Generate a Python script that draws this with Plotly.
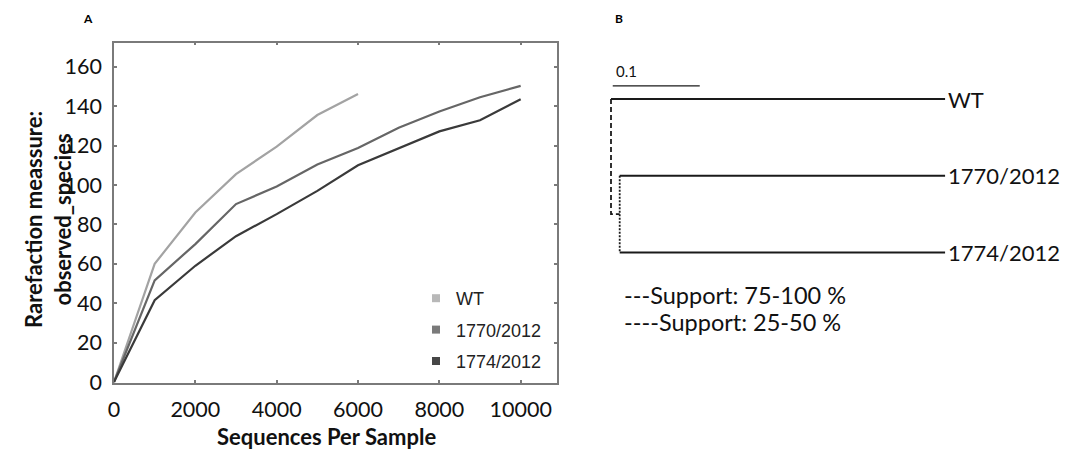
import plotly.graph_objects as go

# ---------------- data: panel A (rarefaction) ----------------
series_names = ["WT", "1770/2012", "1774/2012"]
seq_depth = [0, 1000, 2000, 3000, 4000, 5000, 6000, 7000, 8000, 9000, 10000]
wt_species = [0, 60, 86, 105.5, 119.5, 135.5, 146.2]
s1770_species = [0, 51.6, 70, 90.3, 99.2, 110.4, 118.8, 129, 137.3, 144.5, 150.3]
s1774_species = [0, 41.5, 59, 74, 85.2, 97, 110, 118.8, 127.2, 132.8, 143.5]
x_ticks = [0, 2000, 4000, 6000, 8000, 10000]
y_ticks = [0, 20, 40, 60, 80, 100, 120, 140, 160]

# ---------------- data: panel B (tree) ----------------
leaf_names = ["WT", "1770/2012", "1774/2012"]
leaf_branch = [0.384, 0.374, 0.374]      # branch length to leaf
leaf_parent = ["root", "inner", "inner"]
inner_branch = 0.010                     # root -> inner node
scale_bar_length = 0.1
support_labels = ["---Support: 75-100 %", "----Support: 25-50 %"]

W, H = 1074, 450

def px_x(p):
    return p / W

def px_y(p):
    return 1 - p / H

line_colors = ["#a3a3a3", "#666666", "#3a3a3a"]
legend_colors = ["#b8b8b8", "#7a7a7a", "#464646"]
series_y = [wt_species, s1770_species, s1774_species]

fig = go.Figure()

for name, ys, col in zip(series_names, series_y, line_colors):
    fig.add_trace(go.Scatter(
        x=seq_depth[:len(ys)], y=ys, mode="lines", name=name,
        line=dict(color=col, width=2.2), showlegend=False,
        xaxis="x", yaxis="y"))

# legend entries drawn as squares
for i, (name, col) in enumerate(zip(series_names, legend_colors)):
    fig.add_trace(go.Scatter(
        x=[None], y=[None], mode="markers", name=name,
        marker=dict(symbol="square", size=8, color=col),
        legendgroup=f"g{i}", showlegend=True, xaxis="x", yaxis="y"))

# ---------------- tree geometry from data ----------------
leaf_y = list(range(len(leaf_names)))
inner_children = [i for i, p in enumerate(leaf_parent) if p == "inner"]
inner_y = sum(leaf_y[i] for i in inner_children) / len(inner_children)
root_children_y = [leaf_y[i] for i, p in enumerate(leaf_parent) if p == "root"] + [inner_y]
leaf_start = [0 if p == "root" else inner_branch for p in leaf_parent]
leaf_end = [s + b for s, b in zip(leaf_start, leaf_branch)]

tree_color = "#1a1a1a"
for i in range(len(leaf_names)):
    fig.add_trace(go.Scatter(
        x=[leaf_start[i], leaf_end[i]], y=[leaf_y[i], leaf_y[i]],
        mode="lines", line=dict(color=tree_color, width=2),
        showlegend=False, xaxis="x2", yaxis="y2", hoverinfo="skip"))
# root (dashed: support 75-100 %)
fig.add_trace(go.Scatter(
    x=[0, 0, inner_branch], y=[min(root_children_y), max(root_children_y), inner_y],
    mode="lines", line=dict(color=tree_color, width=1.8, dash="5px,3px"),
    showlegend=False, xaxis="x2", yaxis="y2", hoverinfo="skip"))
# inner node (dotted: support 25-50 %)
fig.add_trace(go.Scatter(
    x=[inner_branch, inner_branch],
    y=[min(leaf_y[i] for i in inner_children), max(leaf_y[i] for i in inner_children)],
    mode="lines", line=dict(color=tree_color, width=1.8, dash="2px,1.5px"),
    showlegend=False, xaxis="x2", yaxis="y2", hoverinfo="skip"))
# scale bar
fig.add_trace(go.Scatter(
    x=[0.002, 0.002 + scale_bar_length], y=[-0.17, -0.17],
    mode="lines", line=dict(color=tree_color, width=1.2),
    showlegend=False, xaxis="x2", yaxis="y2", hoverinfo="skip"))

annotations = []
for i, name in enumerate(leaf_names):
    annotations.append(dict(
        x=leaf_end[i], y=leaf_y[i], xref="x2", yref="y2", text=name,
        showarrow=False, xanchor="left", yanchor="middle", xshift=1,
        font=dict(family="Lato", size=22, color="#111")))
annotations.append(dict(
    x=0.004, y=-0.37, xref="x2", yref="y2", text=str(scale_bar_length),
    showarrow=False, xanchor="left", yanchor="middle",
    font=dict(family="Lato", size=15, color="#111")))
for j, (lab, yy) in enumerate(zip(support_labels, [2.55, 2.91])):
    annotations.append(dict(
        x=0.0126, y=yy, xref="x2", yref="y2", text=lab,
        showarrow=False, xanchor="left", yanchor="middle",
        font=dict(family="Lato", size=23.5, color="#111")))

annotations += [
    dict(x=px_x(326), y=px_y(436), xref="paper", yref="paper",
         text="<b>Sequences Per Sample</b>", showarrow=False,
         xanchor="center", yanchor="middle",
         font=dict(family="Lato", size=22, color="#111")),
    dict(x=px_x(48), y=px_y(220), xref="paper", yref="paper",
         text="<b>Rarefaction meassure:<br>observed_species</b>", showarrow=False,
         textangle=-90, xanchor="center", yanchor="middle",
         font=dict(family="Lato", size=22, color="#111")),
    dict(x=px_x(88), y=px_y(18), xref="paper", yref="paper",
         text="<b>A</b>", showarrow=False, xanchor="center", yanchor="middle",
         font=dict(family="Lato", size=12, color="#000")),
    dict(x=px_x(619), y=px_y(18), xref="paper", yref="paper",
         text="<b>B</b>", showarrow=False, xanchor="center", yanchor="middle",
         font=dict(family="Lato", size=12, color="#000")),
]

bx0, bxs = 611, 870
x2_range = [-0.01, 0.40]
x2_dom = [px_x(bx0 + bxs * x2_range[0]), px_x(bx0 + bxs * x2_range[1])]
by0, bys = 99, 76.75
y2_range = [3.2, -0.6]
y2_dom = [px_y(by0 + bys * y2_range[0]), px_y(by0 + bys * y2_range[1])]

axis_col = "#7a7a7a"
fig.update_layout(
    width=W, height=H,
    margin=dict(l=0, r=0, t=0, b=0),
    paper_bgcolor="white", plot_bgcolor="white",
    xaxis=dict(domain=[px_x(114), px_x(557)], range=[0, 10893],
               tickvals=x_ticks, ticktext=[str(v) for v in x_ticks],
               ticks="inside", ticklen=3, tickwidth=1.5, tickcolor=axis_col,
               showline=True, linecolor=axis_col, linewidth=1.5, mirror="allticks",
               showgrid=False, zeroline=False, automargin=False,
               ticklabelstandoff=6, anchor="y",
               tickfont=dict(family="Lato", size=21.5, color="#111")),
    yaxis=dict(domain=[px_y(383), px_y(42.7)], range=[-0.5, 172.2],
               tickvals=y_ticks, ticktext=[str(v) for v in y_ticks],
               ticks="inside", ticklen=3, tickwidth=1.5, tickcolor=axis_col,
               showline=True, linecolor=axis_col, linewidth=1.5, mirror="allticks",
               showgrid=False, zeroline=False, automargin=False,
               ticklabelstandoff=6, anchor="x",
               tickfont=dict(family="Lato", size=21.5, color="#111")),
    xaxis2=dict(domain=x2_dom, range=x2_range, visible=False, anchor="y2"),
    yaxis2=dict(domain=y2_dom, range=y2_range, visible=False, anchor="x2"),
    legend=dict(x=px_x(416), y=px_y(280), xanchor="left", yanchor="top",
                traceorder="grouped", tracegroupgap=5,
                bgcolor="rgba(0,0,0,0)", itemwidth=30,
                font=dict(family="Liberation Sans", size=18, color="#222")),
    annotations=annotations,
    showlegend=True,
)

fig.write_html("out.html", config={"displayModeBar": False},
               post_script="document.body.style.margin='0';document.body.style.padding='0';")
